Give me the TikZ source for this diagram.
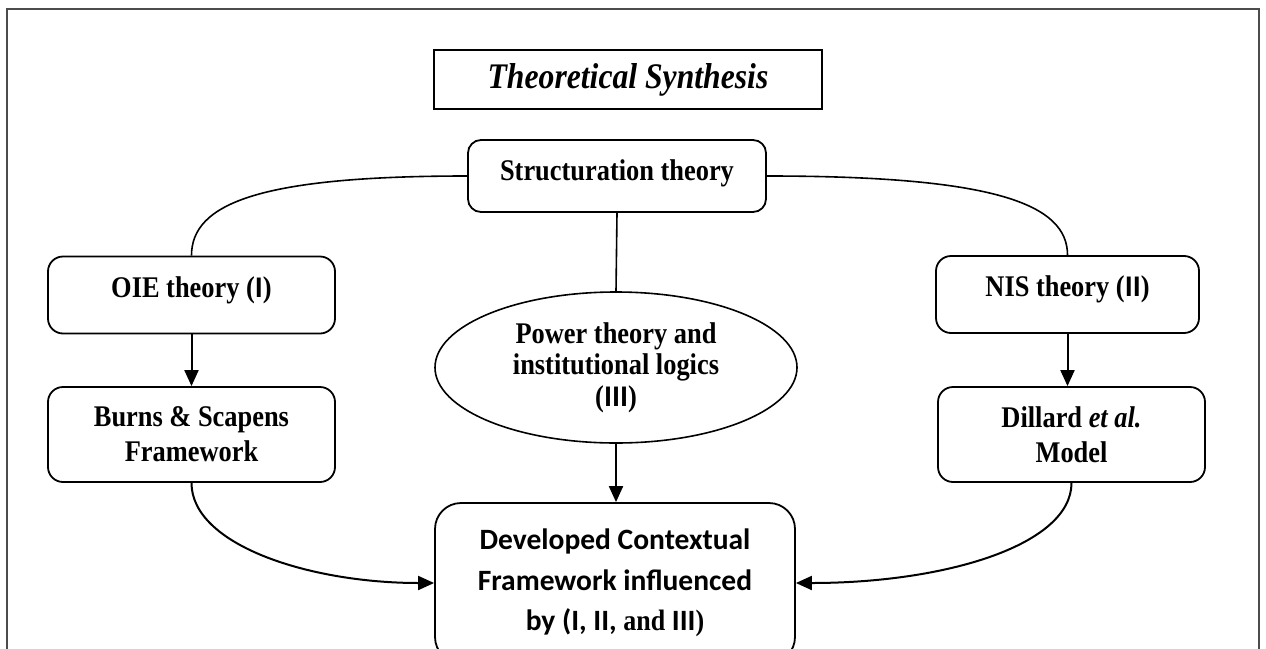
\documentclass[tikz,border=0pt]{standalone}
\usepackage{fontspec}
\setmainfont{Liberation Serif}[FakeStretch=0.88]
\newfontfamily\calfont{Carlito}
\usetikzlibrary{arrows.meta,shapes.geometric,shadows}
\begin{document}
\begin{tikzpicture}[x=1pt,y=-1pt,
  box/.style={draw, line width=1.8pt, rounded corners=15pt, align=center, inner sep=0pt,
    font=\bfseries\fontsize{30}{35}\selectfont},
  oneline/.style={text height=20pt, text depth=16pt},
  titlebox/.style={draw, fill=white, line width=1.6pt, inner sep=0pt,
    minimum width=388pt, minimum height=59pt,
    drop shadow={shadow xshift=1.2pt, shadow yshift=-1.2pt, fill=black!75, opacity=1},
    font=\bfseries\itshape\fontsize{36}{40}\selectfont},
  oval/.style={draw, ellipse, line width=1.6pt, inner sep=0pt, align=center,
    font=\bfseries\fontsize{30}{31.5}\selectfont},
  link/.style={line width=1.6pt},
  flow/.style={line width=2pt, -{Triangle[length=16pt,width=14pt]}}
]
\useasboundingbox (0,0) rectangle (1266,648);
% outer frame, open at the bottom edge
\draw[black!70, line width=1.2pt] (7,670) -- (7,9) -- (1259,9) -- (1259,670);

\node[titlebox] (title) at (628,79.5) {Theoretical Synthesis};

\node[box, rounded corners=13pt, minimum width=298pt, minimum height=72pt,
  text height=20pt, text depth=12pt] (struct) at (617,176) {Structuration theory};
\node[box, oneline, minimum width=287pt, minimum height=77pt] (oie) at (191.5,295) {OIE theory ({\calfont I})};
\node[box, oneline, minimum width=263pt, minimum height=77pt] (nis) at (1067.5,294.5) {NIS theory ({\calfont II})};
\node[box, minimum width=287pt, minimum height=95pt] (burns) at (191.5,434.5) {Burns \& Scapens\\Framework};
\node[box, minimum width=267pt, minimum height=95pt] (dillard) at (1071.5,434.5) {Dillard \textit{et al.}\\Model};
\node[oval, minimum width=362pt, minimum height=151pt] (power) at (616,367.5)
  {Power theory and\\institutional logics\\({\calfont III})};
\node[box, rounded corners=26pt, minimum width=360pt, minimum height=160pt,
  font=\calfont\bfseries\fontsize{29.5}{40.5}\selectfont]
  (dev) at (615,583) {Developed Contextual\\Framework influenced\\by (I, II, {\rmfamily and} III{\rmfamily )}};

% links from structuration theory
\draw[link] (struct.west) .. controls +(-208,0) and +(0,-52) .. (oie.north);
\draw[link] (struct.east) .. controls +(228,0) and +(0,-51) .. (nis.north);
\draw[link] (struct.south) -- (power.north);

% arrows
\draw[flow] (oie.south) -- (oie.south |- burns.north);
\draw[flow] (nis.south) -- (nis.south |- dillard.north);
\draw[flow] (power.south) -- (power.south |- dev.north);
\draw[flow] (burns.south) .. controls +(0,62) and +(-125,0) .. (dev.west);
\draw[flow] (dillard.south) .. controls +(0,62) and +(150,0) .. (dev.east);
\end{tikzpicture}
\end{document}
